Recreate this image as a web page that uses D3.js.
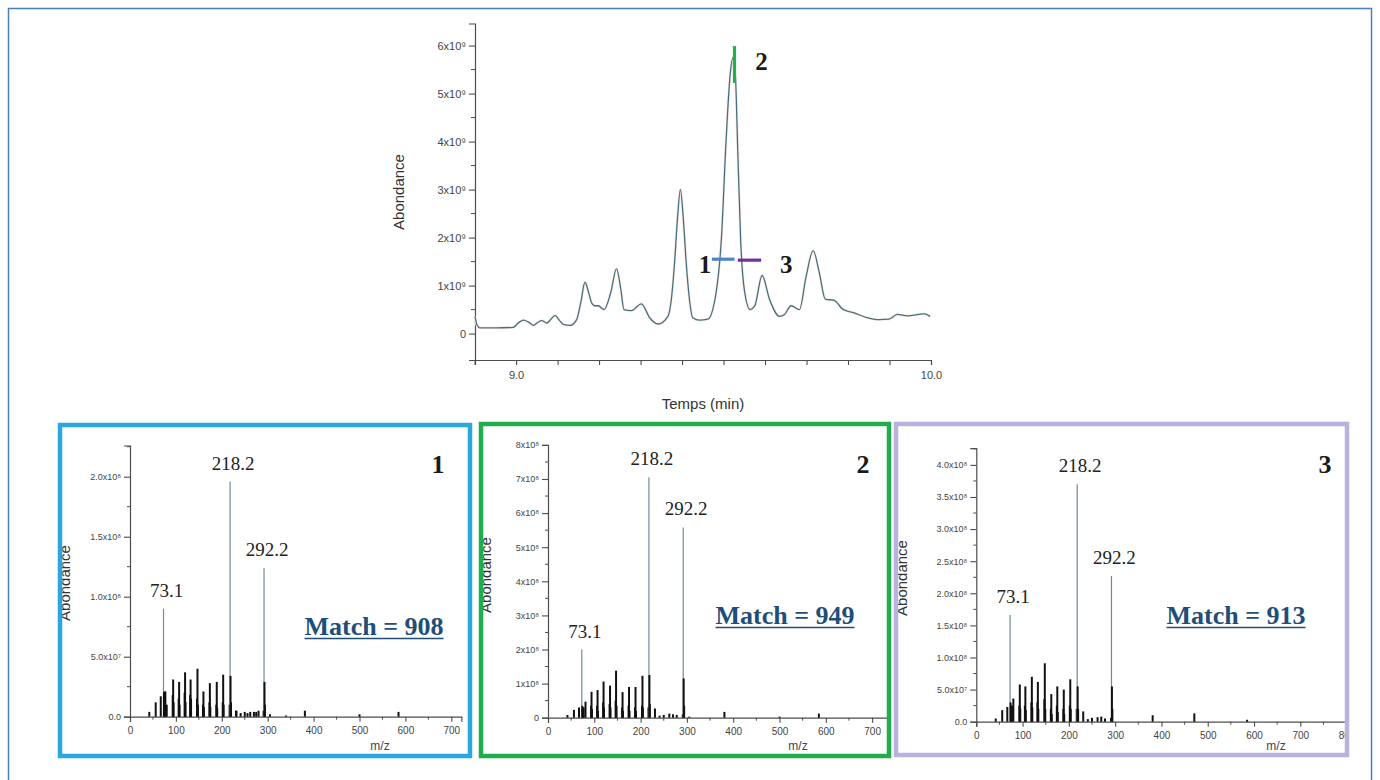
<!DOCTYPE html>
<html><head><meta charset="utf-8">
<script src="https://cdn.jsdelivr.net/npm/d3@7"></script>
<style>
html,body{margin:0;padding:0;background:#fff;}
svg{display:block;}
</style></head>
<body>
<svg id="c" width="1380" height="780"></svg>
<script>
// ---------- DATA ----------
// Chromatogram (time in min, abundance)
const chromTime = [8.901,8.906,8.913,8.95,8.993,9.005,9.018,9.030,9.042,9.052,9.062,9.074,9.084,9.094,9.104,9.114,9.130,9.146,9.156,9.166,9.175,9.182,9.190,9.198,9.212,9.228,9.242,9.252,9.260,9.278,9.302,9.322,9.342,9.366,9.374,9.382,9.389,9.396,9.403,9.410,9.418,9.426,9.442,9.462,9.482,9.495,9.506,9.516,9.523,9.529,9.534,9.541,9.550,9.564,9.575,9.593,9.611,9.635,9.647,9.663,9.683,9.699,9.716,9.731,9.745,9.767,9.787,9.815,9.843,9.875,9.899,9.919,9.943,9.983,9.998];
const chromAbund = [0.36e9,0.18e9,0.12e9,0.12e9,0.13e9,0.22e9,0.28e9,0.24e9,0.17e9,0.23e9,0.27e9,0.22e9,0.30e9,0.38e9,0.28e9,0.19e9,0.17e9,0.29e9,0.65e9,1.07e9,0.85e9,0.64e9,0.58e9,0.58e9,0.50e9,0.85e9,1.35e9,0.95e9,0.50e9,0.48e9,0.62e9,0.33e9,0.20e9,0.36e9,0.70e9,1.48e9,2.40e9,3.00e9,2.40e9,1.48e9,0.70e9,0.33e9,0.28e9,0.30e9,0.85e9,2.00e9,4.00e9,5.40e9,5.75e9,5.30e9,3.90e9,2.00e9,0.92e9,0.50e9,0.57e9,1.21e9,0.71e9,0.36e9,0.40e9,0.58e9,0.50e9,1.19e9,1.73e9,1.26e9,0.72e9,0.69e9,0.51e9,0.43e9,0.34e9,0.29e9,0.30e9,0.40e9,0.37e9,0.41e9,0.36e9];
const chromYTicks = [0,1e9,2e9,3e9,4e9,5e9,6e9];
const chromYLabels = ["0","1x10\u2079","2x10\u2079","3x10\u2079","4x10\u2079","5x10\u2079","6x10\u2079"];
const chromXTicks = [8.9,9.0,9.1,9.2,9.3,9.4,9.5,9.6,9.7,9.8,9.9,10.0];
const chromXLabels = ["","9.0","","","","","","","","","","10.0"];
// scan markers
const markerNames = ["1","2","3"];
const markerT0 = [9.472, 9.5264, 9.5344];
const markerT1 = [9.5264, 9.5264, 9.5906];
const markerV0 = [1.55e9, 5.22e9, 1.53e9];
const markerV1 = [1.55e9, 5.99e9, 1.53e9];

// Mass spectra
const mz1  = [42,56,67,73,74,75,77,80,93,94,95,106,107,108,119,120,121,131,132,133,146,147,148,159,160,161,173,174,175,188,189,190,202,203,204,217,218,219,220,231,232,241,250,256,262,270,275,280,291,292,293,294,305,340,381,500,585];
const int1 = [0.04e8,0.12e8,0.17e8,0.90e8,0.20e8,0.21e8,0.21e8,0.10e8,0.18e8,0.31e8,0.12e8,0.15e8,0.29e8,0.10e8,0.20e8,0.37e8,0.12e8,0.18e8,0.31e8,0.15e8,0.15e8,0.40e8,0.10e8,0.10e8,0.21e8,0.08e8,0.12e8,0.28e8,0.08e8,0.10e8,0.29e8,0.07e8,0.12e8,0.35e8,0.10e8,0.10e8,1.96e8,0.34e8,0.12e8,0.05e8,0.05e8,0.03e8,0.04e8,0.03e8,0.04e8,0.04e8,0.04e8,0.05e8,0.05e8,1.24e8,0.29e8,0.10e8,0.02e8,0.01e8,0.05e8,0.02e8,0.04e8];
const mz2  = [42,56,67,73,74,75,77,81,93,94,95,106,107,108,119,120,121,133,134,135,146,147,148,160,161,162,174,175,176,188,189,190,203,204,205,217,218,219,220,231,241,250,262,270,278,291,292,293,294,305,381,500,585];
const int2 = [0.08e8,0.23e8,0.30e8,2.00e8,0.35e8,0.30e8,0.30e8,0.47e8,0.35e8,0.76e8,0.25e8,0.35e8,0.81e8,0.20e8,0.45e8,1.06e8,0.30e8,0.40e8,0.94e8,0.30e8,0.50e8,1.38e8,0.35e8,0.30e8,0.75e8,0.20e8,0.35e8,0.90e8,0.20e8,0.30e8,0.90e8,0.20e8,0.35e8,1.23e8,0.30e8,0.30e8,7.05e8,1.25e8,0.40e8,0.27e8,0.06e8,0.08e8,0.12e8,0.10e8,0.08e8,0.10e8,5.58e8,1.15e8,0.35e8,0.03e8,0.17e8,0.03e8,0.12e8];
const mz3  = [42,56,67,73,74,75,77,80,93,94,95,105,106,107,119,120,121,132,133,134,147,148,149,161,162,163,174,175,176,188,189,190,202,203,204,217,218,219,220,231,241,250,262,270,278,291,292,293,294,381,471,585];
const int3 = [0.05e8,0.18e8,0.23e8,1.66e8,0.30e8,0.25e8,0.25e8,0.36e8,0.25e8,0.58e8,0.20e8,0.25e8,0.55e8,0.18e8,0.30e8,0.70e8,0.22e8,0.30e8,0.62e8,0.20e8,0.35e8,0.91e8,0.20e8,0.20e8,0.43e8,0.12e8,0.25e8,0.55e8,0.15e8,0.20e8,0.50e8,0.12e8,0.25e8,0.66e8,0.20e8,0.20e8,3.70e8,0.55e8,0.20e8,0.16e8,0.04e8,0.06e8,0.07e8,0.08e8,0.05e8,0.06e8,2.27e8,0.55e8,0.20e8,0.10e8,0.13e8,0.03e8];
const peakLabelMz = [73, 218, 292];
const peakLabels = ["73.1", "218.2", "292.2"];
const panelNames = ["1", "2", "3"];
const matchScores = [908, 949, 913];
const yTicks1 = [0,0.5e8,1e8,1.5e8,2e8];
const yLabels1 = ["0.0","5.0x10\u2077","1.0x10\u2078","1.5x10\u2078","2.0x10\u2078"];
const yTicks2 = [0,1e8,2e8,3e8,4e8,5e8,6e8,7e8,8e8];
const yLabels2 = ["0","1x10\u2078","2x10\u2078","3x10\u2078","4x10\u2078","5x10\u2078","6x10\u2078","7x10\u2078","8x10\u2078"];
const yTicks3 = [0,0.5e8,1e8,1.5e8,2e8,2.5e8,3e8,3.5e8,4e8];
const yLabels3 = ["0.0","5.0x10\u2077","1.0x10\u2078","1.5x10\u2078","2.0x10\u2078","2.5x10\u2078","3.0x10\u2078","3.5x10\u2078","4.0x10\u2078"];
const mzTicks = [0,100,200,300,400,500,600,700,800];

// ---------- DRAW ----------
const svg = d3.select("#c");
const SANS = "'Liberation Sans', Arial, sans-serif";
const SERIF = "'Liberation Serif', 'Times New Roman', serif";
const AXC = "#4d4d4d";

svg.append("rect").attr("x",8.5).attr("y",8.5).attr("width",1363).attr("height",800)
  .attr("fill","none").attr("stroke","#4a7fc1").attr("stroke-width",1.5);

function styleAxis(g, fs){
  g.select(".domain").attr("stroke",AXC).attr("stroke-width",1.2);
  g.selectAll(".tick line").attr("stroke",AXC).attr("stroke-width",1.1);
  g.selectAll(".tick text").attr("fill","#444").attr("font-family",SANS).attr("font-size",fs);
}
function minorTicks(g, pos, vals, orient, len){
  vals.forEach(v=>{
    const p = pos(v);
    if (orient==="left") g.append("line").attr("x1",0).attr("x2",-len).attr("y1",p).attr("y2",p).attr("stroke",AXC).attr("stroke-width",1);
    else g.append("line").attr("y1",0).attr("y2",len).attr("x1",p).attr("x2",p).attr("stroke",AXC).attr("stroke-width",1);
  });
}

// ----- chromatogram -----
const cx = d3.scaleLinear().domain([8.901,10.0]).range([475,931]);
const cy = d3.scaleLinear().domain([-0.55e9,6.46e9]).range([360,23.5]);
const topG = svg.append("g");
const cyAxis = topG.append("g").attr("transform","translate(475,0)")
  .call(d3.axisLeft(cy).tickValues(chromYTicks).tickSize(6).tickPadding(3).tickFormat((d,i)=>chromYLabels[i]));
styleAxis(cyAxis, 11);
minorTicks(cyAxis, cy, [0.5e9,1.5e9,2.5e9,3.5e9,4.5e9,5.5e9], "left", 4);
const cxAxis = topG.append("g").attr("transform","translate(0,360)")
  .call(d3.axisBottom(cx).tickValues(chromXTicks).tickSize(5).tickPadding(6).tickFormat((d,i)=>chromXLabels[i]));
styleAxis(cxAxis, 11);
topG.append("text").attr("x",703).attr("y",409).attr("text-anchor","middle")
  .attr("font-family",SANS).attr("font-size",15).attr("fill","#333").text("Temps (min)");
topG.append("text").attr("transform","translate(404,192) rotate(-90)").attr("text-anchor","middle")
  .attr("font-family",SANS).attr("font-size",15).attr("fill","#333").text("Abondance");
const line = d3.line().x((d,i)=>cx(chromTime[i])).y(d=>cy(d)).curve(d3.curveMonotoneX);
topG.append("path").attr("d",line(chromAbund)).attr("fill","none")
  .attr("stroke","#fcefea").attr("stroke-width",3);
topG.append("path").attr("d",line(chromAbund)).attr("fill","none")
  .attr("stroke","#46707f").attr("stroke-width",1.3);
const markerColors = ["#4a86c8","#22b04b","#7030a0"];
markerNames.forEach((n,i)=>{
  topG.append("line").attr("x1",cx(markerT0[i])).attr("x2",cx(markerT1[i]))
    .attr("y1",cy(markerV0[i])).attr("y2",cy(markerV1[i]))
    .attr("stroke",markerColors[i]).attr("stroke-width",3.2);
});
const mlab = (txt,x,y)=>topG.append("text").attr("x",x).attr("y",y).attr("text-anchor","middle")
  .attr("font-family",SERIF).attr("font-weight","bold").attr("font-size",25).attr("fill","#1a1a1a").text(txt);
mlab(markerNames[0], cx(markerT0[0])-7, cy(markerV0[0])+14);
mlab(markerNames[1], cx(markerT0[1])+27, cy(markerV1[1])+24);
mlab(markerNames[2], cx(markerT1[2])+25, cy(markerV0[2])+13);

// ----- spectra panels -----
const panels = [
  {mz:mz1, it:int1, yT:yTicks1, yL:yLabels1, xMax:722, x0:130, x1:461.4, yMax:2.26e8, y0:716.7, y1:445.5,
   frame:[60,425,410,331], color:"#2aa7df", name:[438,473], match:[374,635], ylab:[70,583], mzlab:[380,750], minorStep:0.25e8},
  {mz:mz2, it:int2, yT:yTicks2, yL:yLabels2, xMax:733, x0:548, x1:887.4, yMax:8e8, y0:717.7, y1:444.9,
   frame:[481,424,408,332], color:"#21ad4d", name:[863,473], match:[785,624], ylab:[491,575], mzlab:[798,750], minorStep:0.5e8},
  {mz:mz3, it:int3, yT:yTicks3, yL:yLabels3, xMax:800, x0:976.3, x1:1346.6, yMax:4.26e8, y0:721.7, y1:448.2,
   frame:[896,424,451,331], color:"#b8b3dc", name:[1325,473], match:[1236,624], ylab:[907,578], mzlab:[1276,750], minorStep:0.25e8}
];

panels.forEach((p,pi)=>{
  const g = svg.append("g");
  const [fx,fy,fw,fh] = p.frame;
  const clipId = "clip"+pi;
  svg.append("clipPath").attr("id",clipId).append("rect").attr("x",fx).attr("y",fy).attr("width",fw).attr("height",fh);
  g.attr("clip-path",`url(#${clipId})`);
  g.append("rect").attr("x",fx).attr("y",fy).attr("width",fw).attr("height",fh).attr("fill","#fff");
  const x = d3.scaleLinear().domain([0,p.xMax]).range([p.x0,p.x1]);
  const y = d3.scaleLinear().domain([0,p.yMax]).range([p.y0,p.y1]);
  const xa = g.append("g").attr("transform",`translate(0,${p.y0})`)
    .call(d3.axisBottom(x).tickValues(mzTicks.filter(v=>v<=p.xMax+1)).tickSize(5).tickPadding(5));
  styleAxis(xa, 10);
  const minX = d3.range(50,p.xMax,100);
  minorTicks(xa, x, minX, "bottom", 3);
  const ya = g.append("g").attr("transform",`translate(${p.x0},0)`)
    .call(d3.axisLeft(y).tickValues(p.yT).tickSize(6).tickPadding(3).tickFormat((d,i)=>p.yL[i]));
  styleAxis(ya, 9);
  const minY = d3.range(p.minorStep, p.yMax, p.minorStep).filter(v=>!p.yT.some(t=>Math.abs(t-v)<1));
  minorTicks(ya, y, minY, "left", 3);
  const maxI = d3.max(p.it);
  g.append("g").selectAll("line").data(p.mz).join("line")
    .attr("x1",d=>x(d)).attr("x2",d=>x(d))
    .attr("y1",p.y0).attr("y2",(d,i)=>y(p.it[i]))
    .attr("stroke",(d,i)=>p.it[i] > 0.28*maxI ? "#6f8c9b" : "#111")
    .attr("stroke-width",(d,i)=>p.it[i] > 0.28*maxI ? 1.2 : 2.0);
  peakLabelMz.forEach((m,k)=>{
    const idx = p.mz.indexOf(m);
    g.append("text").attr("x",x(m)+3).attr("y",y(p.it[idx])-12).attr("text-anchor","middle")
      .attr("font-family",SERIF).attr("font-size",19).attr("fill","#222").text(peakLabels[k]);
  });
  g.append("text").attr("transform",`translate(${p.ylab[0]},${p.ylab[1]}) rotate(-90)`).attr("text-anchor","middle")
    .attr("font-family",SANS).attr("font-size",15).attr("fill","#333").text("Abondance");
  g.append("text").attr("x",p.mzlab[0]).attr("y",p.mzlab[1]).attr("text-anchor","middle")
    .attr("font-family",SANS).attr("font-size",12).attr("fill","#444").text("m/z");
  g.append("text").attr("x",p.name[0]).attr("y",p.name[1]).attr("text-anchor","middle")
    .attr("font-family",SERIF).attr("font-weight","bold").attr("font-size",26).attr("fill","#1a1a1a").text(panelNames[pi]);
  const mt = g.append("text").attr("x",p.match[0]).attr("y",p.match[1]).attr("text-anchor","middle")
    .attr("font-family",SERIF).attr("font-weight","bold").attr("font-size",26).attr("fill","#1f4e79")
    .text("Match = " + matchScores[pi]);
  const bb = mt.node().getBBox();
  g.append("line").attr("x1",bb.x).attr("x2",bb.x+bb.width).attr("y1",p.match[1]+3.5).attr("y2",p.match[1]+3.5)
    .attr("stroke","#1f4e79").attr("stroke-width",1.6);
  svg.append("rect").attr("x",fx).attr("y",fy).attr("width",fw).attr("height",fh)
    .attr("fill","none").attr("stroke",p.color).attr("stroke-width",4.5);
});
</script>
</body></html>
